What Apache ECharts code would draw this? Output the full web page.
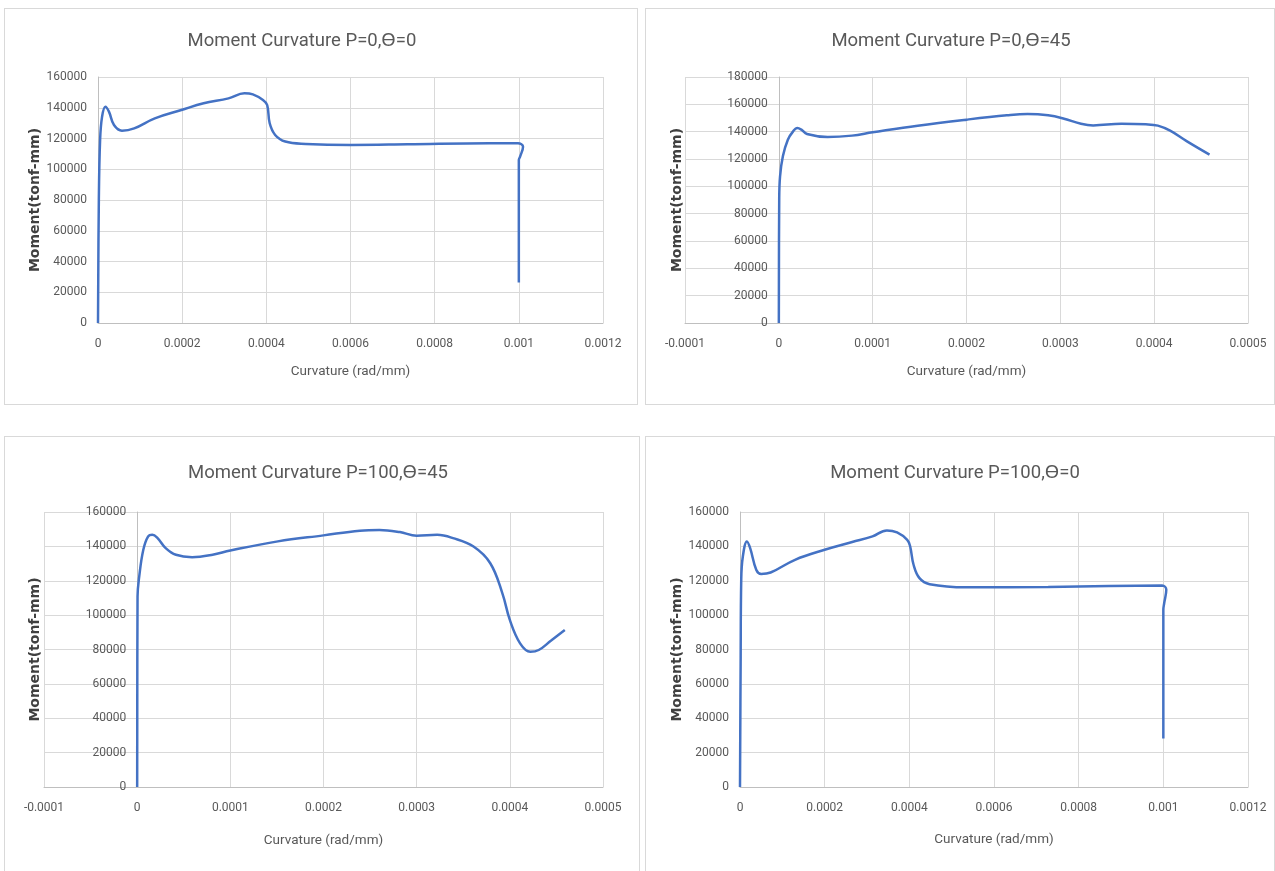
<!DOCTYPE html>
<html>
<head>
<meta charset="utf-8">
<script src="https://cdn.jsdelivr.net/npm/echarts@6/dist/echarts.min.js"></script>
<style>
  body { margin: 0; background: #fff; width: 1275px; height: 871px; overflow: hidden; position: relative; }
  .box { position: absolute; border: 1px solid #d9d9d9; background: #fff; }
</style>
</head>
<body>
<div id="c1" class="box" style="left:4px;top:8px;width:632px;height:395px"></div>
<div id="c2" class="box" style="left:645px;top:8px;width:628px;height:395px"></div>
<div id="c3" class="box" style="left:4px;top:436px;width:634px;height:442px"></div>
<div id="c4" class="box" style="left:645px;top:436px;width:628px;height:442px"></div>
<script>
// P=0, θ=0
var curvP0T0 = [0, 0.000002, 0.000005, 0.0000097, 0.0000175, 0.000026, 0.000038, 0.000057, 0.000086, 0.000135, 0.000198, 0.000251, 0.00031, 0.000348, 0.000368, 0.000392, 0.000402, 0.000408, 0.000421, 0.000445, 0.000494, 0.0006, 0.000736, 0.00093, 0.000998, 0.00101, 0.001003, 0.001, 0.001];
var momP0T0 = [0, 80000, 119000, 134200, 140700, 137500, 128800, 125100, 126600, 133100, 138500, 142900, 146100, 149400, 148700, 145000, 141800, 129900, 122300, 118000, 116500, 115800, 116200, 116900, 116900, 114700, 108200, 106000, 26400];

// P=0, θ=45
var curvP0T45 = [0, 0.0000004, 0.0000013, 0.0000043, 0.0000096, 0.0000152, 0.0000196, 0.000024, 0.00003, 0.000052, 0.000078, 0.0001, 0.000148, 0.0002, 0.000243, 0.000265, 0.000287, 0.000304, 0.000322, 0.000335, 0.000365, 0.000391, 0.000404, 0.000417, 0.000435, 0.000459];
var momP0T45 = [0, 90200, 107300, 122000, 134100, 140200, 142700, 141500, 138300, 136100, 137100, 139500, 144400, 148800, 151950, 152900, 151950, 149500, 145800, 144600, 145800, 145400, 144400, 140700, 132900, 123200];

// P=100, θ=45
var curvP100T45 = [0, 0.0000004, 0.0000022, 0.0000066, 0.0000118, 0.0000162, 0.0000219, 0.0000306, 0.0000416, 0.000059, 0.000081, 0.0001, 0.000151, 0.0002, 0.000239, 0.00026, 0.000282, 0.0003, 0.000322, 0.000339, 0.000361, 0.000379, 0.000392, 0.0004, 0.000411, 0.000422, 0.000431, 0.000444, 0.000459];
var momP100T45 = [0, 110800, 122400, 138000, 145800, 146700, 144800, 139000, 135100, 133700, 135100, 137600, 142900, 146400, 149100, 149500, 148300, 146200, 146700, 144800, 139900, 130200, 112700, 97200, 83600, 78700, 79700, 85100, 91400];

// P=100, θ=0
var curvP100T0 = [0, 0.0000015, 0.0000029, 0.0000067, 0.0000164, 0.000024, 0.0000386, 0.00005, 0.0000723, 0.00013, 0.0002, 0.000265, 0.000313, 0.000347, 0.000371, 0.000395, 0.000402, 0.00041, 0.000424, 0.000448, 0.000535, 0.000728, 0.000872, 0.000997, 0.001007, 0.001002, 0.001, 0.001];
var momP100T0 = [0, 72000, 120500, 134100, 142900, 139000, 126300, 124000, 124800, 132200, 138000, 142500, 145800, 149300, 148100, 143800, 139900, 129300, 121500, 118000, 116200, 116400, 117000, 117200, 114700, 106900, 103000, 28200];

var titles = ['Moment Curvature P=0,\u03F4=0', 'Moment Curvature P=0,\u03F4=45', 'Moment Curvature P=100,\u03F4=45', 'Moment Curvature P=100,\u03F4=0'];
var xName = 'Curvature (rad/mm)';
var yName = 'Moment(tonf-mm)';

var face = 'Roboto, "Noto Sans", sans-serif';
var grey = '#595959';

function makeOption(c) {
  var pts = c.xs.map(function (x, i) { return [x, c.ys[i]]; });
  return {
    animation: false,
    title: {
      text: c.title, left: c.titleX, top: c.titleTop, textAlign: 'center', padding: 0,
      textStyle: { fontFamily: face, fontSize: 18.5, fontWeight: 'normal', color: grey }
    },
    grid: Object.assign({ containLabel: false, outerBoundsMode: 'none' }, c.grid),
    xAxis: {
      type: 'value', min: c.xMin, max: c.xMax, interval: c.xInt,
      name: xName, nameLocation: 'middle', nameGap: c.xGap, nameMoveOverlap: false,
      nameTextStyle: { fontFamily: face, fontSize: 13.5, color: grey },
      axisLine: { show: true, onZero: true, lineStyle: { color: '#bfbfbf', width: 1 } },
      axisTick: { show: false },
      axisLabel: { margin: 15, fontFamily: face, fontSize: 12, color: grey,
        formatter: function (v) { return String(parseFloat(v.toFixed(6))); } },
      splitLine: { show: true, lineStyle: { color: '#d9d9d9', width: 1 } }
    },
    yAxis: {
      type: 'value', min: 0, max: c.yMax, interval: 20000,
      offset: c.yOffset,
      name: yName, nameLocation: 'middle', nameGap: c.yGap, nameMoveOverlap: false,
      nameTextStyle: { fontFamily: '"DejaVu Sans", sans-serif', fontSize: 14, fontWeight: 'bold', color: '#404040' },
      axisLine: { show: true, onZero: false, lineStyle: { color: '#bfbfbf', width: 1 } },
      axisTick: { show: false },
      axisLabel: { margin: 11, fontFamily: face, fontSize: 12, color: grey,
        formatter: function (v) { return String(v); } },
      splitLine: { show: true, lineStyle: { color: '#d9d9d9', width: 1 } }
    },
    series: [{
      type: 'line', data: pts, smooth: 0.4, symbol: 'none',
      lineStyle: { color: '#4472C4', width: 2.5 }
    }]
  };
}

var configs = [
  { id: 'c1', title: titles[0], titleX: 297, titleTop: 23, grid: { left: 93, top: 68, width: 505, height: 246 },
    xMin: 0, xMax: 0.0012, xInt: 0.0002, yMax: 160000, yOffset: 0, xs: curvP0T0, ys: momP0T0, xGap: 42, yGap: 56 },
  { id: 'c2', title: titles[1], titleX: 305, titleTop: 23, grid: { left: 39, top: 68, width: 563, height: 246 },
    xMin: -0.0001, xMax: 0.0005, xInt: 0.0001, yMax: 180000, yOffset: -563 / 6, xs: curvP0T45, ys: momP0T45, xGap: 42, yGap: 94 },
  { id: 'c3', title: titles[2], titleX: 313, titleTop: 27, grid: { left: 39, top: 75, width: 559, height: 275 },
    xMin: -0.0001, xMax: 0.0005, xInt: 0.0001, yMax: 160000, yOffset: -559 / 6, xs: curvP100T45, ys: momP100T45, xGap: 47, yGap: 95 },
  { id: 'c4', title: titles[3], titleX: 309, titleTop: 27, grid: { left: 94, top: 75, width: 508, height: 275 },
    xMin: 0, xMax: 0.0012, xInt: 0.0002, yMax: 160000, yOffset: 0, xs: curvP100T0, ys: momP100T0, xGap: 46, yGap: 56 }
];

configs.forEach(function (c) {
  var chart = echarts.init(document.getElementById(c.id));
  chart.setOption(makeOption(c));
});
</script>
</body>
</html>
